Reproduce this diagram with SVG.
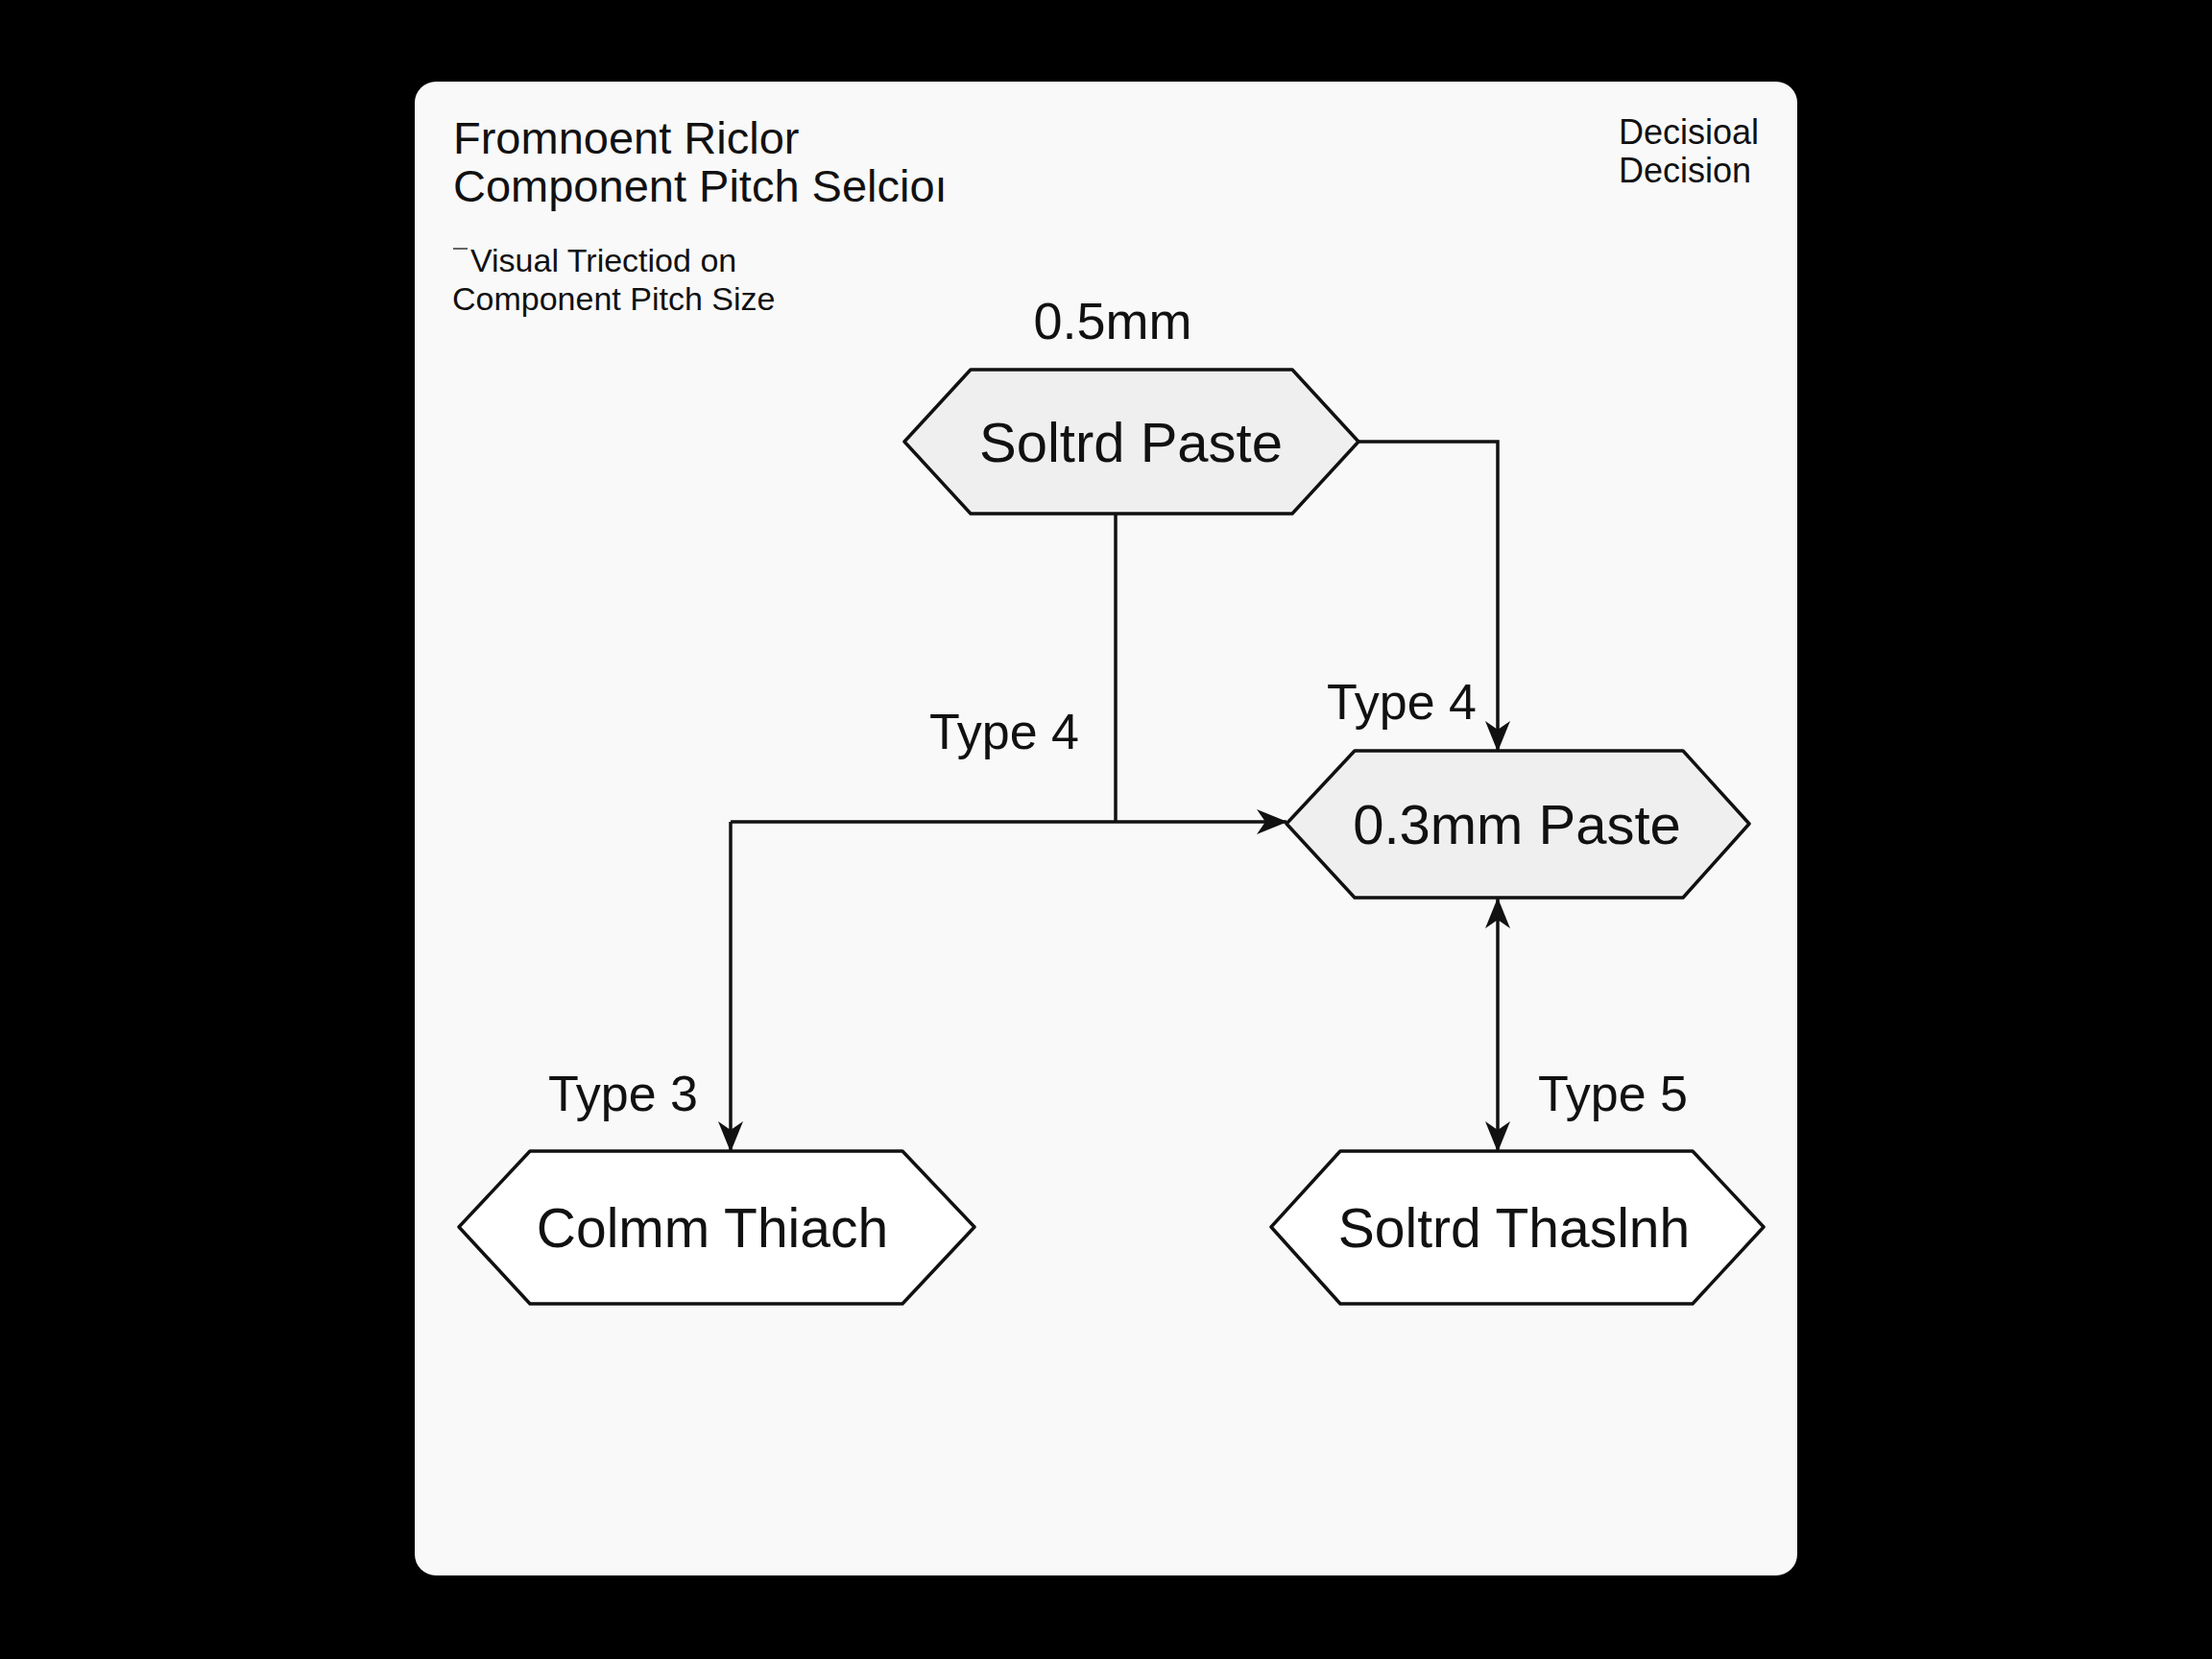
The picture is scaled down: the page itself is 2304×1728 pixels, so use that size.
<svg xmlns="http://www.w3.org/2000/svg" width="2304" height="1728" viewBox="0 0 2304 1728">
<defs>
<style>
.t{font-family:"Liberation Sans",Arial,sans-serif;fill:#111;}
.hex{stroke:#111;stroke-width:3.5;stroke-linejoin:round;}
.g{fill:#efefef;}
.w{fill:#ffffff;}
.c{fill:none;stroke:#111;stroke-width:3.5;}
</style>
<marker id="arr" viewBox="0 0 32 26" refX="31" refY="13" markerWidth="32" markerHeight="26" markerUnits="userSpaceOnUse" orient="auto-start-reverse">
<path d="M0,0 L32,13 L0,26 L9,13 z" fill="#111"/>
</marker>
</defs>
<rect x="0" y="0" width="2304" height="1728" fill="#000"/>
<rect id="card" x="432" y="85" width="1440" height="1556" rx="22" fill="#f9f9f9"/>
<g id="header">
<text class="t" x="472" y="160" font-size="47">Fromnoent Riclor</text>
<text class="t" x="472" y="210" font-size="47">Component Pitch Selcioı</text>
<line x1="472" y1="259" x2="487" y2="259" stroke="#333" stroke-width="1.5"/>
<text class="t" x="490" y="283" font-size="34">Visual Triectiod on</text>
<text class="t" x="471" y="323" font-size="34">Component Pitch Size</text>
<text class="t" x="1686" y="150" font-size="36">Decisioal</text>
<text class="t" x="1686" y="190" font-size="36">Decision</text>
</g>
<g id="connectors">
<polyline class="c" points="1415,460 1560,460 1560,782" marker-end="url(#arr)"/>
<polyline class="c" points="1162,535 1162,856"/>
<polyline class="c" points="761,856 1340,856" marker-end="url(#arr)"/>
<polyline class="c" points="761,856 761,1199" marker-end="url(#arr)"/>
<line class="c" x1="1560" y1="936" x2="1560" y2="1199" marker-start="url(#arr)" marker-end="url(#arr)"/>
<text class="t" x="1159" y="353" font-size="54" text-anchor="middle">0.5mm</text>
<text class="t" x="1046" y="780" font-size="52" text-anchor="middle">Type 4</text>
<text class="t" x="1460" y="749" font-size="52" text-anchor="middle">Type 4</text>
<text class="t" x="649" y="1157" font-size="52" text-anchor="middle">Type 3</text>
<text class="t" x="1680" y="1157" font-size="52" text-anchor="middle">Type 5</text>
</g>
<g id="node-solder-paste">
<polygon class="hex g" points="942,460 1011,385 1346,385 1415,460 1346,535 1011,535"/>
<text class="t" x="1178" y="481" font-size="58" text-anchor="middle">Soltrd Paste</text>
</g>
<g id="node-03mm-paste">
<polygon class="hex g" points="1340,858 1411,782 1753,782 1822,858 1753,935 1411,935"/>
<text class="t" x="1580" y="879" font-size="58" text-anchor="middle">0.3mm Paste</text>
</g>
<g id="node-colmm-thiach">
<polygon class="hex w" points="478,1278 552,1199 940,1199 1015,1278 940,1358 552,1358"/>
<text class="t" x="742" y="1299" font-size="57" text-anchor="middle">Colmm Thiach</text>
</g>
<g id="node-soltrd-thaslnh">
<polygon class="hex w" points="1324,1278 1396,1199 1763,1199 1837,1278 1763,1358 1396,1358"/>
<text class="t" x="1577" y="1299" font-size="57" text-anchor="middle">Soltrd Thaslnh</text>
</g>
</svg>
